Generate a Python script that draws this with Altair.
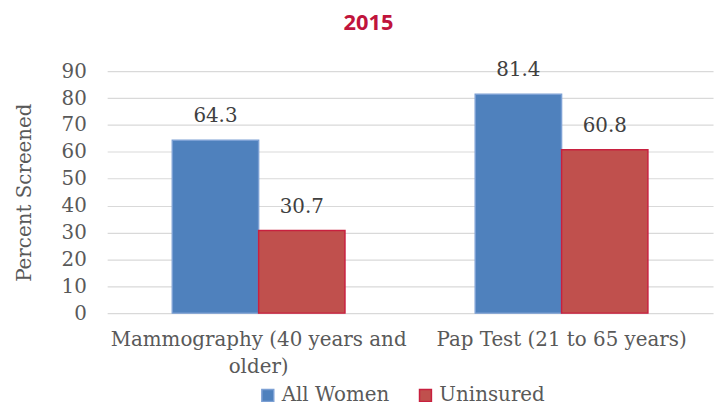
import altair as alt
import pandas as pd

categories = ["Mammography (40 years and older)", "Pap Test (21 to 65 years)"]
series = ["All Women", "Uninsured"]
all_women = [64.3, 81.4]
uninsured = [30.7, 60.8]
y_ticks = [0, 10, 20, 30, 40, 50, 60, 70, 80, 90]

rows = []
for i, c in enumerate(categories):
    rows.append({"category": c, "series": series[0], "value": all_women[i], "label": f"{all_women[i]:.1f}"})
    rows.append({"category": c, "series": series[1], "value": uninsured[i], "label": f"{uninsured[i]:.1f}"})
df = pd.DataFrame(rows)

FONT = "DejaVu Serif"

x_enc = alt.X(
    "category:N",
    sort=categories,
    title=None,
    scale=alt.Scale(paddingInner=0.43, paddingOuter=0.215),
    axis=alt.Axis(
        labelAngle=0,
        labelFont=FONT,
        labelFontSize=20,
        labelColor="#595959",
        labelPadding=17,
        labelLineHeight=27,
        labelLimit=400,
        labelOverlap=False,
        domain=False,
        ticks=False,
        labelExpr="datum.value == 'Mammography (40 years and older)' ? ['Mammography (40 years and', 'older)'] : datum.value",
    ),
)
xoff = alt.XOffset("series:N", sort=series, scale=alt.Scale(paddingInner=0, paddingOuter=0))

y_enc = alt.Y(
    "value:Q",
    title="Percent Screened",
    scale=alt.Scale(domain=[0, 90], nice=False),
    axis=alt.Axis(
        values=y_ticks,
        tickCount=10,
        labelFont=FONT,
        labelFontSize=20,
        labelColor="#595959",
        labelPadding=21,
        labelOverlap=False,
        titleFont=FONT,
        titleFontSize=20,
        titleFontWeight="normal",
        titleColor="#595959",
        titlePadding=27,
        domain=False,
        ticks=False,
        gridColor="#d9d9d9",
        gridWidth=1.2,
    ),
)

bars = alt.Chart(df).mark_bar(strokeWidth=1.5).encode(
    x=x_enc,
    xOffset=xoff,
    y=y_enc,
    color=alt.Color(
        "series:N",
        sort=series,
        scale=alt.Scale(domain=series, range=["#4F81BD", "#C0504D"]),
        legend=alt.Legend(
            title=None,
            orient="none",
            direction="horizontal",
            legendX=152,
            legendY=317,
            symbolType="square",
            symbolSize=144,
            symbolOpacity=1,
            labelFont=FONT,
            labelFontSize=20,
            labelColor="#595959",
            labelOffset=4,
            columnPadding=26,
        ),
    ),
    stroke=alt.Stroke(
        "series:N",
        sort=series,
        scale=alt.Scale(domain=series, range=["#7CA0D4", "#C8203F"]),
        legend=None,
    ),
)

labels = alt.Chart(df).mark_text(
    font=FONT, fontSize=20, color="#404040", baseline="alphabetic", dy=-18
).encode(
    x=x_enc,
    xOffset=xoff,
    y=y_enc,
    text="label:N",
)

chart = (
    alt.layer(bars, labels)
    .properties(
        width=611,
        height=244,
        autosize=alt.AutoSizeParams(type="none"),
        padding={"left": 100, "top": 62, "right": 4, "bottom": 98},
        title=alt.TitleParams(
            "2015",
            font="Open Sans",
            fontSize=22,
            fontWeight="bold",
            color="#C0143C",
            anchor="middle",
            frame="group",
            dx=-42,
            offset=26,
        ),
    )
    .configure_view(stroke=None)
)

chart.save("out.html", embed_options={"renderer": "svg", "actions": False})
